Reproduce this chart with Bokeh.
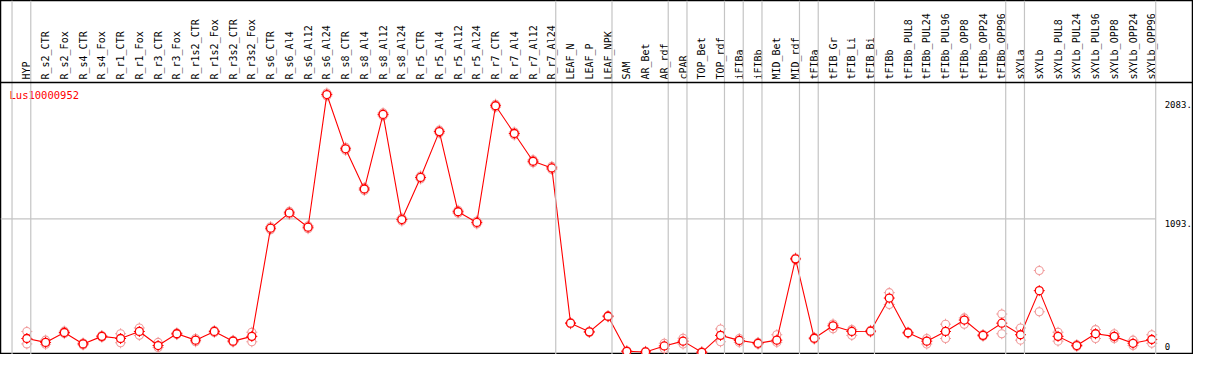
import math
from bokeh.plotting import figure
from bokeh.models import Span
from bokeh.core.properties import value
from bokeh.embed import file_html
from bokeh.resources import INLINE

# ---------------- data ----------------
title = "Lus10000952"
cats = ["HYP", "R_s2_CTR", "R_s2_Fox", "R_s4_CTR", "R_s4_Fox", "R_r1_CTR", "R_r1_Fox",
        "R_r3_CTR", "R_r3_Fox", "R_r1s2_CTR", "R_r1s2_Fox", "R_r3s2_CTR", "R_r3s2_Fox",
        "R_s6_CTR", "R_s6_Al4", "R_s6_Al12", "R_s6_Al24", "R_s8_CTR", "R_s8_Al4",
        "R_s8_Al12", "R_s8_Al24", "R_r5_CTR", "R_r5_Al4", "R_r5_Al12", "R_r5_Al24",
        "R_r7_CTR", "R_r7_Al4", "R_r7_Al12", "R_r7_Al24", "LEAF_N", "LEAF_P", "LEAF_NPK",
        "SAM", "AR_Bet", "AR_rdf", "cPAR", "TOP_Bet", "TOP_rdf", "iFIBa", "iFIBb",
        "MID_Bet", "MID_rdf", "tFIBa", "tFIB_Gr", "tFIB_Li", "tFIB_Bi", "tFIBb",
        "tFIBb_PUL8", "tFIBb_PUL24", "tFIBb_PUL96", "tFIBb_OPP8", "tFIBb_OPP24",
        "tFIBb_OPP96", "sXYLa", "sXYLb", "sXYLb_PUL8", "sXYLb_PUL24", "sXYLb_PUL96",
        "sXYLb_OPP8", "sXYLb_OPP24", "sXYLb_OPP96"]

means = [141, 110, 189, 98, 158, 141, 197, 85, 179, 128, 197, 120, 158,
         1019, 1141, 1027, 2083, 1651, 1331, 1925, 1088, 1423, 1788, 1150, 1065,
         1994, 1773, 1552, 1499, 263, 194, 318,
         39, 34, 82, 120, 31, 166, 126, 103, 128, 775,
         143, 242, 197, 199, 463,
         187, 120, 197, 288, 166, 263,
         171, 522, 158, 85, 179, 158, 103, 133]

rep_hi = [197, 128, 200, 105, 165, 179, 225, 110, 186, 141, 205, 127, 191,
          1031, 1153, 1039, 2095, 1663, 1343, 1937, 1100, 1435, 1800, 1162, 1077,
          2006, 1785, 1564, 1511, 268, 199, 323,
          44, 39, 103, 143, 36, 217, 141, 110, 171, 782,
          150, 257, 212, 206, 506,
          192, 141, 255, 305, 173, 336,
          225, 682, 191, 92, 212, 179, 128, 171]

rep_lo = [98, 95, 180, 90, 151, 107, 166, 69, 172, 115, 189, 113, 115,
          1007, 1129, 1015, 2071, 1639, 1319, 1913, 1076, 1411, 1776, 1138, 1053,
          1982, 1761, 1540, 1487, 258, 189, 313,
          34, 29, 59, 97, 26, 115, 110, 96, 110, 768,
          136, 219, 166, 192, 412,
          182, 97, 141, 255, 159, 179,
          128, 354, 120, 77, 141, 141, 85, 103]

# group boundaries: a separator follows each of these categories
group_ends = ["HYP", "R_r7_Al24", "LEAF_NPK", "AR_rdf", "cPAR", "TOP_rdf", "iFIBa",
              "iFIBb", "MID_rdf", "tFIBa", "tFIB_Bi", "tFIBb_OPP96", "sXYLa", "sXYLb_OPP96"]

tick_values = [0, 1093, 2083]
tick_labels = ["0", "1093.", "2083."]

# ---------------- layout ----------------
n = len(cats)
xs = list(range(n))
X0, X1 = -1.405, 62.226
Y0, Y1 = 13.7, 2831.7
HEADER_LINE = 2179
LABEL_BASE = 2203
TITLE_TOP = 2131
SEP_OFF = 0.21

p = figure(width=1193, height=354, x_range=(X0, X1), y_range=(Y0, Y1),
           x_axis_type=None, y_axis_type=None, toolbar_location=None,
           output_backend="svg", min_border=0)
p.grid.visible = False
p.outline_line_color = "black"
p.outline_line_width = 1.5
p.background_fill_color = "white"
p.border_fill_color = "white"

GRAY = "#c4c4c4"
# vertical separators
seps = [-1] + [cats.index(c) for c in group_ends]
for s in seps:
    p.add_layout(Span(location=s + SEP_OFF, dimension="height",
                      line_color=GRAY, line_width=1.2))

# horizontal mid gridline
p.segment(x0=[X0], x1=[n - 1 + SEP_OFF], y0=[tick_values[1]], y1=[tick_values[1]],
          line_color=GRAY, line_width=1.2)

# header separator
p.add_layout(Span(location=HEADER_LINE, dimension="width",
                  line_color="black", line_width=1.5))

# header labels
p.text(x=xs, y=[LABEL_BASE] * n, text=cats, angle=math.pi / 2,
       text_align="left", text_baseline="alphabetic", x_offset=0,
       text_font=value("DejaVu Sans Mono"), text_font_size="10px",
       text_color="black")

# title
p.text(x=[X0], y=[TITLE_TOP], text=[title], x_offset=9, text_align="left",
       text_baseline="top", text_font=value("DejaVu Sans Mono"),
       text_font_size="10.5px", text_color="red")

# right-side value labels
offs = [-13, 1, 6]
for v, lab, o in zip(tick_values, tick_labels, offs):
    p.text(x=[n - 1 + SEP_OFF], y=[v], text=[lab], x_offset=9, y_offset=o,
           text_align="left", text_baseline="top",
           text_font=value("DejaVu Sans Mono"), text_font_size="9px",
           text_color="black")

PINK = "#f09a9a"
# replicates
for reps in (rep_hi, rep_lo):
    p.scatter(xs, reps, marker="cross", size=11, line_color=PINK, line_width=1)
    p.scatter(xs, reps, marker="circle", size=8, line_color=PINK, line_width=1.1,
              fill_color="white")

# mean line
p.line(xs, means, line_color="red", line_width=1.1)

# means
p.scatter(xs, means, marker="cross", size=11, line_color="red", line_width=1)
p.scatter(xs, means, marker="circle", size=8, line_color="red", line_width=1.3,
          fill_color="white")

open("out.html", "w").write(file_html(p, INLINE))
